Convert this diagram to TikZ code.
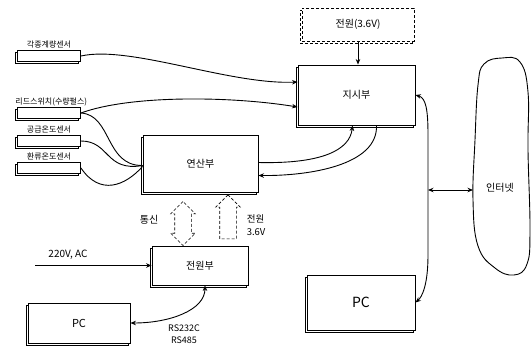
\documentclass[tikz,border=0pt]{standalone}
\usepackage{fontspec}
\setmainfont{Noto Sans CJK KR}
\usetikzlibrary{arrows.meta, positioning, shapes.arrows, shadows}

\begin{document}
\begin{tikzpicture}[
    x=1pt, y=-1pt,
    >={Stealth[length=5.5pt, width=4.5pt]},
    line width=0.9pt,
    every node/.style={font=\fontsize{10}{12}\selectfont},
    unit/.style={draw, fill=white, inner sep=0pt,
      copy shadow={shadow xshift=-2pt, shadow yshift=-2pt}},
    sensor/.style={unit, minimum width=63pt, minimum height=11pt},
    lab/.style={font=\fontsize{8}{9}\selectfont, inner sep=1pt},
    hollow/.style={draw, densely dashed, line width=0.6pt, fill=white,
      inner sep=8pt, minimum height=44pt, shape border rotate=90}
  ]
  \useasboundingbox (0,0) rectangle (531,349);

  % Sensors
  \node[sensor, label={[lab]above:각종계량센서}] (s1) at (49,56) {};
  \node[sensor, label={[lab, anchor=south west, xshift=-3pt]north west:리드스위치(수량펄스)}] (s2) at (49,113) {};
  \node[sensor, label={[lab]above:공급온도센서}] (s3) at (49,141) {};
  \node[sensor, label={[lab]above:환류온도센서}] (s4) at (49,168) {};

  % Units
  \node[unit, densely dashed, minimum width=112pt, minimum height=33pt] (pwr36) at (358,24.5) {전원(3.6V)};
  \node[unit, minimum width=117pt, minimum height=60pt] (ind) at (356.5,95) {지시부};
  \node[unit, minimum width=115pt, minimum height=57pt] (ops) at (200.5,163.5) {연산부};
  \node[unit, minimum width=96pt, minimum height=39pt] (psu) at (200,265.5) {전원부};
  \node[unit, minimum width=102pt, minimum height=40pt, font=\fontsize{11}{13}\selectfont] (pcl) at (79,323) {PC};
  \node[unit, minimum width=108pt, minimum height=55pt, font=\fontsize{14}{16}\selectfont] (pcr) at (361,302.5) {PC};

  % Internet
  \draw plot[smooth cycle, tension=0.7] coordinates {(478,85) (484,64) (502,58) (520,62) (528,92) (528,150)
    (530,230) (527,264) (514,275) (495,268) (478,246) (473,200) (475,140)};
  \node (net) at (500,188) {인터넷};
  \coordinate (netw) at (473,190);
  \coordinate (bus) at (428,190);

  % Sensor lines
  \draw[->] (s1.east) .. controls (130,45) and (230,85) .. ([yshift=13pt]ind.west);
  \draw[->] (s2.east) .. controls (130,95) and (230,96) .. ([yshift=-12pt]ind.west);
  \draw (s2.east) .. controls (112,115) and (105,166) .. ([yshift=-2pt]ops.west);
  \draw (s3.east) .. controls (110,141) and (105,172) .. ([yshift=-2pt]ops.west);
  \draw (s4.east) .. controls (100,196) and (125,186) .. ([yshift=-3pt]ops.west);

  % Between units
  \draw[->] (pwr36.south) -- (pwr36.south |- ind.north);
  \draw[->] ([yshift=1pt]ops.east) .. controls (322,164) and (350,150) .. ([xshift=-4pt]ind.south);
  \draw[->] ([xshift=20pt]ind.south) .. controls (378,165) and (310,176) .. ([yshift=-12pt]ops.east);
  \draw[<->] (ind.east) .. controls (426,98) and (428,110) .. (428,135) -- (428,255)
    .. controls (428,285) and (422,297) .. (pcr.east);
  \draw[<->] (bus) -- (netw);

  % Communication and power
  \node[hollow, double arrow, double arrow head extend=4pt] (comm) at (183,223.5) {};
  \node[hollow, single arrow, single arrow head extend=4pt] (pwrup) at (228,221) {};
  \node[anchor=east] (commlab) at (162,220) {통신};
  \node[align=left, anchor=west, font=\fontsize{9.5}{13}\selectfont] (pwrlab) at (243,225) {전원\\3.6V};

  \node (ac) at (68,255) {220V, AC};
  \coordinate (acin) at (35,265.5);
  \draw[->] (acin) -- (acin -| psu.west);

  \draw[<->] ([xshift=5pt]psu.south) .. controls (205,310) and (170,323) .. (pcl.east);
  \node[align=center, font=\fontsize{9}{12}\selectfont] (rs) at (184,334) {RS232C\\RS485};
\end{tikzpicture}
\end{document}
